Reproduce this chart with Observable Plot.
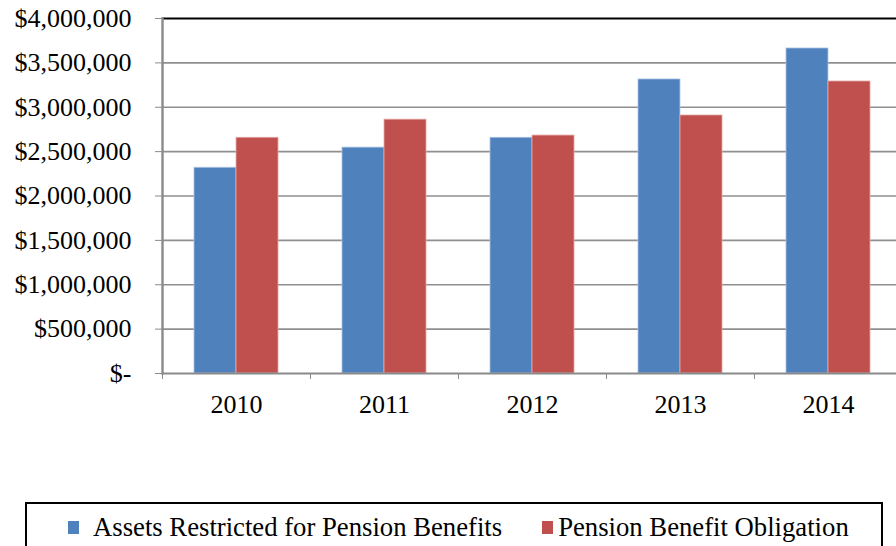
<!DOCTYPE html>
<html>
<head>
<meta charset="utf-8">
<script src="https://cdn.jsdelivr.net/npm/d3@7"></script>
<script src="https://cdn.jsdelivr.net/npm/@observablehq/plot@0.6"></script>
<style>
  html, body { margin: 0; padding: 0; background: #fff; overflow: hidden; }
  body { width: 896px; height: 546px; position: relative; }
  #legend {
    position: absolute; left: 25px; top: 502px; width: 858px; height: 50px;
    border: 2px solid #000; box-sizing: border-box; background: #fff;
    display: flex; align-items: center; color: #000;
    font-family: "Liberation Serif", "Times New Roman", serif; font-size: 26.7px;
  }
  #legend span { font-family: "Liberation Serif", "Times New Roman", serif; }
  .sw { display: inline-block; width: 11px; height: 13px; }
</style>
</head>
<body>
<div id="chart"></div>
<div id="legend"></div>
<script>
const years = ["2010", "2011", "2012", "2013", "2014"];
const assets = [2318000, 2545000, 2656000, 3313000, 3662000];
const obligation = [2656000, 2860000, 2681000, 2907000, 3290000];
const seriesNames = ["Assets Restricted for Pension Benefits", "Pension Benefit Obligation"];
const seriesColors = ["#4F81BD", "#C0504D"];
const yTicks = [0, 500000, 1000000, 1500000, 2000000, 2500000, 3000000, 3500000, 4000000];
const yTickLabels = ["$-", "$500,000", "$1,000,000", "$1,500,000", "$2,000,000", "$2,500,000", "$3,000,000", "$3,500,000", "$4,000,000"];

const rows = years.flatMap((y, i) => [
  {year: y, series: seriesNames[0], value: assets[i]},
  {year: y, series: seriesNames[1], value: obligation[i]}
]);

const W = 896, H = 500, mL = 162, mR = -6, mT = 18, mB = 127;
const padInner = 0.432;
const step = (W - mL - mR) / years.length;
const half = step * (1 - padInner) / 2;

const chart = Plot.plot({
  width: W, height: H,
  marginLeft: mL, marginRight: mR, marginTop: mT, marginBottom: mB,
  style: {fontFamily: "Liberation Serif", fontSize: "26px", color: "#000", background: "#fff"},
  x: {domain: years, paddingInner: padInner, paddingOuter: padInner / 2, label: null},
  y: {domain: [0, 4000000], label: null},
  marks: [
    Plot.ruleY(yTicks.slice(1, -1), {stroke: "#8f8f8f", strokeWidth: 1.6}),
    Plot.ruleY([yTicks[yTicks.length - 1]], {stroke: "#000", strokeWidth: 2}),
    Plot.barY(rows.filter(d => d.series === seriesNames[0]), {
      x: "year", y: "value", fill: seriesColors[0], insetRight: half,
      stroke: "#a9c1e3", strokeWidth: 0.8
    }),
    Plot.barY(rows.filter(d => d.series === seriesNames[1]), {
      x: "year", y: "value", fill: seriesColors[1], insetLeft: half,
      stroke: "#e3a6a4", strokeWidth: 0.8
    }),
    Plot.ruleY([0], {stroke: "#8a8a8a", strokeWidth: 2.2}),
    Plot.frame({anchor: "left", stroke: "#8a8a8a", strokeWidth: 2.4}),
    Plot.axisY({
      ticks: yTicks, tickSize: 7, tickPadding: 24, stroke: "#8a8a8a", fill: "#000",
      tickFormat: d => yTickLabels[yTicks.indexOf(d)], label: null
    }),
    Plot.axisX({tickSize: 0, tickPadding: 21, fill: "#000", label: null}),
    Plot.axisX({tickSize: 6, stroke: "#8a8a8a", tickFormat: () => "", dx: -step / 2, label: null})
  ]
});
document.getElementById("chart").appendChild(chart);

const legend = document.getElementById("legend");
const gaps = [[41, 14], [40, 5]];
seriesNames.forEach((name, i) => {
  const sw = document.createElement("span");
  sw.className = "sw";
  sw.style.background = seriesColors[i];
  sw.style.marginLeft = gaps[i][0] + "px";
  sw.style.marginRight = gaps[i][1] + "px";
  const t = document.createElement("span");
  t.textContent = name;
  legend.appendChild(sw);
  legend.appendChild(t);
});
</script>
</body>
</html>
